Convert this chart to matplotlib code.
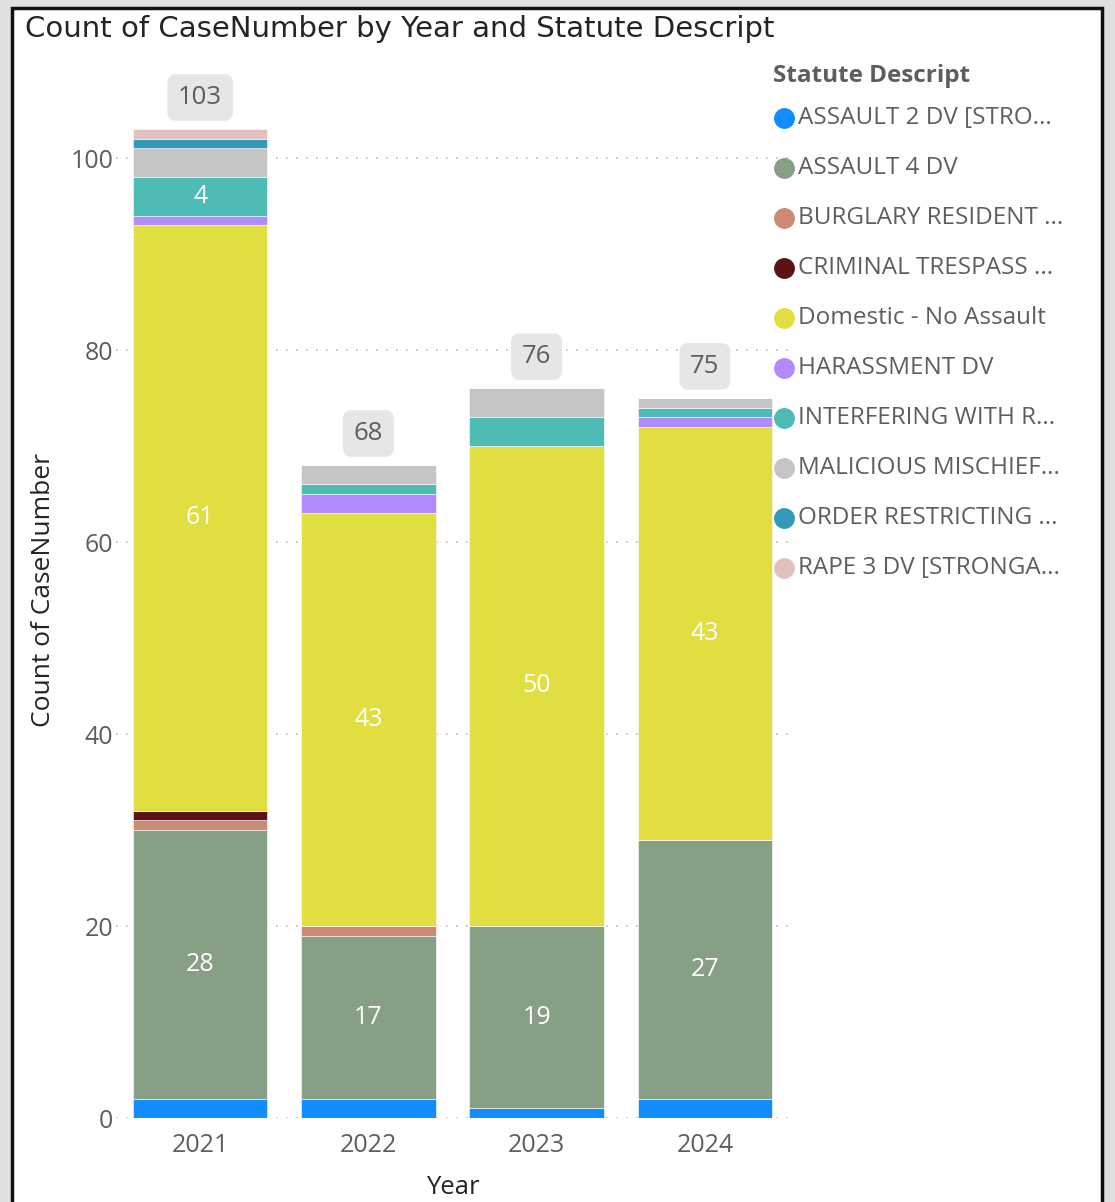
import numpy as np
import matplotlib.pyplot as plt
from matplotlib.patches import Rectangle
from matplotlib.lines import Line2D

years = ['2021', '2022', '2023', '2024']
statutes = ['ASSAULT 2 DV [STRO...', 'ASSAULT 4 DV', 'BURGLARY RESIDENT ...',
            'CRIMINAL TRESPASS ...', 'Domestic - No Assault', 'HARASSMENT DV',
            'INTERFERING WITH R...', 'MALICIOUS MISCHIEF...', 'ORDER RESTRICTING ...',
            'RAPE 3 DV [STRONGA...']
assault2 = [2, 2, 1, 2]
assault4 = [28, 17, 19, 27]
burglary = [1, 1, 0, 0]
trespass = [1, 0, 0, 0]
domestic = [61, 43, 50, 43]
harassment = [1, 2, 0, 1]
interfering = [4, 1, 3, 1]
malicious = [3, 2, 3, 1]
order_restr = [1, 0, 0, 0]
rape3 = [1, 0, 0, 0]
series = [assault2, assault4, burglary, trespass, domestic, harassment,
          interfering, malicious, order_restr, rape3]
colors = ['#118DFF', '#87A085', '#CB8B73', '#5E1215', '#E0DE40', '#B18BFC',
          '#4EBCB5', '#C5C5C5', '#3399BB', '#E2C0C0']

W, H = 1115, 1202
fig = plt.figure(figsize=(W / 100, H / 100), dpi=100)
fig.patch.set_facecolor('#E1DFE0')
# white panel with black frame
fig.patches.append(Rectangle((12 / W, -0.02), (1102 - 12) / W, (H - 8) / H + 0.02,
                             transform=fig.transFigure, facecolor='white',
                             edgecolor='#111111', linewidth=2.5, zorder=-1))

ax = fig.add_axes([116 / W, 84 / H, (789 - 116) / W, (1118 - 62) / H])
ax.set_facecolor('none')
x = np.arange(len(years))
bottom = np.zeros(len(years))
for vals, c in zip(series, colors):
    v = np.array(vals, dtype=float)
    ax.bar(x, v, 0.8, bottom=bottom, color=c, edgecolor='white', linewidth=0.4, zorder=3)
    for i in range(len(years)):
        if v[i] >= 4:
            ax.text(x[i], bottom[i] + v[i] / 2, str(int(v[i])), ha='center', va='center',
                    color='white', fontsize=18, family='Open Sans', zorder=4)
    bottom += v

for i in range(len(years)):
    ax.text(x[i], bottom[i] + 3.3, str(int(bottom[i])), ha='center', va='center',
            color='#605E5C', fontsize=18.5, family='Open Sans', zorder=5,
            bbox=dict(boxstyle='round,pad=0.42,rounding_size=0.35', fc='#E6E6E6', ec='none'))

ax.set_xlim(-0.5, 3.5)
ax.set_ylim(0, 110)
ax.set_yticks([0, 20, 40, 60, 80, 100])
ax.set_xticks(x)
ax.set_xticklabels(years)
ax.tick_params(length=0, labelsize=18, labelcolor='#605E5C')
ax.tick_params(axis='x', pad=11)
ax.tick_params(axis='y', pad=2)
for lab in ax.get_xticklabels() + ax.get_yticklabels():
    lab.set_family('Open Sans')
ax.yaxis.grid(True, linestyle=(0, (1, 5)), color='#BBBBBB', linewidth=1.2, zorder=0)
for s in ax.spines.values():
    s.set_visible(False)
ax.set_ylabel('Count of CaseNumber', fontsize=19, color='#252423', family='Open Sans', labelpad=10)
ax.set_xlabel('Year', fontsize=18.5, color='#252423', family='Open Sans', labelpad=12)

fig.text(25 / W, 1 - 29 / H, 'Count of CaseNumber by Year and Statute Descript',
         fontsize=21, color='#252423', va='center', ha='left', family='DejaVu Sans')

# legend
fig.text(773 / W, 1 - 76 / H, 'Statute Descript', fontsize=17.5, fontweight='bold',
         color='#605E5C', va='center', ha='left', family='Open Sans')
for k, (name, c) in enumerate(zip(statutes, colors)):
    yy = 1 - (118 + 50 * k) / H
    fig.lines.append(Line2D([784 / W], [yy], marker='o', markersize=14, color=c,
                            linestyle='none', transform=fig.transFigure))
    fig.text(798 / W, yy, name, fontsize=17.5, color='#605E5C', va='center', ha='left',
             family='Open Sans')

fig.savefig('out.png', dpi=100, facecolor=fig.get_facecolor())
